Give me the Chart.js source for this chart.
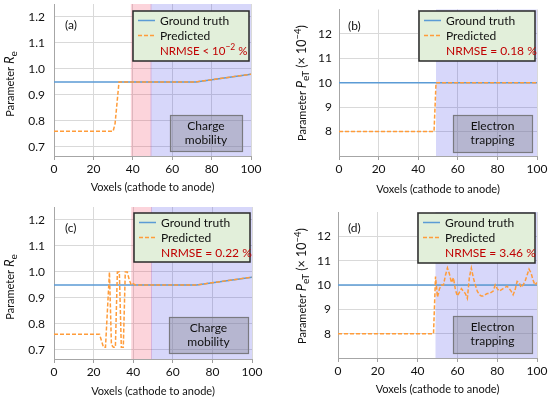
<!DOCTYPE html>
<html>
<head>
<meta charset="utf-8">
<script src="https://cdn.jsdelivr.net/npm/chart.js@4.4.0/dist/chart.umd.min.js"></script>
<style>
  body { margin: 0; background: #fff; }
  #wrap { position: relative; width: 550px; height: 399px; }
  .panel { position: absolute; }
</style>
</head>
<body>
<div id="wrap">
  <div class="panel" style="left:0;top:0;width:275px;height:200px"><canvas id="chartA"></canvas></div>
  <div class="panel" style="left:275px;top:0;width:275px;height:200px"><canvas id="chartB"></canvas></div>
  <div class="panel" style="left:0;top:200px;width:275px;height:199px"><canvas id="chartC"></canvas></div>
  <div class="panel" style="left:275px;top:200px;width:275px;height:199px"><canvas id="chartD"></canvas></div>
</div>
<script>
// tick values
const voxelTicks = [0, 20, 40, 60, 80, 100];
const reTicks = [0.7, 0.8, 0.9, 1.0, 1.1, 1.2];
const petTicks = [8, 9, 10, 11, 12];

// shaded bands (voxel ranges)
const mobilityBand = [39, 49.5];
const trappingBand = [49, 100];

// ground truth
const reTruthX = [0, 72, 100];
const reTruthY = [0.95, 0.95, 0.98];
const petTruthX = [0, 100];
const petTruthY = [10, 10];

// (a) predicted R_e
const predAX = [0, 30, 31, 33, 72, 100];
const predAY = [0.76, 0.76, 0.79, 0.95, 0.95, 0.98];

// (b) predicted P_eT
const predBX = [0, 48, 49, 100];
const predBY = [8, 8, 10, 10];

// (c) predicted R_e
const predCX = [0, 23, 25, 26, 28, 29, 30, 31, 32, 33, 34, 35, 36, 37, 38, 39, 40, 41, 72, 100];
const predCY = [0.76, 0.76, 0.71, 0.71, 1.0, 0.72, 0.71, 0.71, 1.0, 1.0, 0.71, 0.71, 1.0, 1.0, 0.97, 0.95, 0.955, 0.95, 0.95, 0.98];

// (d) predicted P_eT
const predDX = [0, 48, 49, 50, 51, 52, 53, 54, 55, 56, 57, 58, 59, 60, 61, 62, 63, 64, 65, 66, 67, 68, 69, 70,
  71, 72, 73, 74, 75, 76, 77, 78, 79, 80, 81, 82, 83, 84, 85, 86, 87, 88, 89, 90, 91, 92, 93, 94, 95, 96, 97, 98, 99, 100];
const predDY = [8, 8, 10.35, 9.5, 9.85, 10.0, 10.0, 10.4, 10.7, 10.45, 10.1, 10.3, 9.8, 9.55, 9.7, 9.85, 9.75, 9.65, 9.45, 10.3, 10.7, 10.3, 10.0, 9.75,
  9.6, 9.55, 9.55, 9.6, 9.65, 9.65, 9.7, 9.75, 10.0, 9.85, 9.75, 9.8, 9.85, 9.9, 9.95, 9.85, 9.75, 9.6, 9.8, 10.15, 10.1, 9.9, 10.0, 10.15, 10.4, 10.65, 10.5, 10.2, 10.0, 10.1];

const BLUE = '#5b9bd5';
const ORANGE = '#ff9c3a';
const INK = '#111';
const FONT = "Lato, 'Open Sans', sans-serif";

Chart.defaults.font.family = FONT;
Chart.defaults.font.size = 12;
Chart.defaults.color = INK;

function toPoints(xs, ys) {
  return xs.map((x, i) => ({ x: x, y: ys[i] }));
}

// draw a run of text pieces (for sub/superscripts)
function drawParts(ctx, parts, x, y, rotate, align) {
  ctx.save();
  ctx.translate(x, y);
  if (rotate) ctx.rotate(-Math.PI / 2);
  ctx.textBaseline = 'middle';
  ctx.textAlign = 'left';
  let total = 0;
  parts.forEach(p => { ctx.font = p.font; p.w = ctx.measureText(p.text).width; total += p.w; });
  let pos = align === 'center' ? -total / 2 : 0;
  parts.forEach(p => {
    ctx.font = p.font;
    ctx.fillStyle = p.color || INK;
    ctx.fillText(p.text, pos, p.dy || 0);
    pos += p.w;
  });
  ctx.restore();
}

const decor = {
  id: 'decor',
  beforeDatasetsDraw(chart, args, o) {
    const { ctx, chartArea: ca, scales: { x } } = chart;
    ctx.save();
    o.bands.forEach(b => {
      const x0 = x.getPixelForValue(b.range[0]);
      const x1 = x.getPixelForValue(b.range[1]);
      ctx.fillStyle = b.color;
      ctx.fillRect(x0, ca.top, x1 - x0, ca.bottom - ca.top);
    });
    ctx.restore();
  },
  afterDraw(chart, args, o) {
    const ctx = chart.ctx;
    ctx.save();
    // label box (Charge mobility / Electron trapping)
    const bx = o.box;
    ctx.fillStyle = 'rgba(128,128,140,0.38)';
    ctx.fillRect(bx.x, bx.y, bx.w, bx.h);
    ctx.strokeStyle = '#7a7a80';
    ctx.lineWidth = 1.2;
    ctx.strokeRect(bx.x + 0.5, bx.y + 0.5, bx.w, bx.h);
    ctx.fillStyle = INK;
    ctx.font = '12px ' + FONT;
    ctx.textAlign = 'center';
    ctx.textBaseline = 'middle';
    ctx.fillText(o.boxText[0], bx.x + bx.w / 2, bx.y + bx.h / 2 - 7);
    ctx.fillText(o.boxText[1], bx.x + bx.w / 2, bx.y + bx.h / 2 + 7);

    // legend
    const lg = o.legend;
    ctx.fillStyle = '#e2efda';
    ctx.fillRect(lg.x, lg.y, lg.w, lg.h);
    ctx.strokeStyle = '#2a2a2a';
    ctx.lineWidth = 1.5;
    ctx.strokeRect(lg.x, lg.y, lg.w, lg.h);
    ctx.strokeStyle = BLUE;
    ctx.beginPath();
    ctx.moveTo(lg.x + 5, lg.y + 9.5);
    ctx.lineTo(lg.x + 22, lg.y + 9.5);
    ctx.stroke();
    ctx.strokeStyle = ORANGE;
    ctx.setLineDash([4, 2]);
    ctx.beginPath();
    ctx.moveTo(lg.x + 5, lg.y + 24.5);
    ctx.lineTo(lg.x + 22, lg.y + 24.5);
    ctx.stroke();
    ctx.setLineDash([]);
    ctx.fillStyle = INK;
    ctx.font = '12px ' + FONT;
    ctx.textAlign = 'left';
    ctx.textBaseline = 'middle';
    ctx.fillText('Ground truth', lg.x + 27, lg.y + 10);
    ctx.fillText('Predicted', lg.x + 27, lg.y + 25);
    drawParts(ctx, o.nrmse, lg.x + 27, lg.y + 40, false, 'left');

    // panel letter
    ctx.fillStyle = INK;
    ctx.font = '12px ' + FONT;
    ctx.textAlign = 'left';
    ctx.textBaseline = 'middle';
    ctx.fillText(o.letter, o.letterPos[0], o.letterPos[1]);

    // y axis title
    drawParts(ctx, o.yTitle, o.yTitlePos[0], o.yTitlePos[1], true, 'center');
    ctx.restore();
  }
};

const reTitle = [
  { text: 'Parameter ', font: '11px ' + FONT },
  { text: 'R', font: 'italic 13px ' + FONT },
  { text: 'e', font: '10px ' + FONT, dy: 3.5 }
];
const petTitle = [
  { text: 'Parameter ', font: '11px ' + FONT },
  { text: 'P', font: 'italic 13px ' + FONT },
  { text: 'eT', font: '10px ' + FONT, dy: 3.5 },
  { text: ' (\u00d7 10', font: '12.5px ' + FONT },
  { text: '\u22124', font: '9.5px ' + FONT, dy: -4.5 },
  { text: ')', font: '12.5px ' + FONT }
];
function nrmseText(parts) {
  return parts.map(p => Object.assign({ color: '#c00000' }, p));
}

function makePanel(id, o) {
  const canvas = document.getElementById(id);
  const W = canvas.parentNode.clientWidth;
  const H = canvas.parentNode.clientHeight;
  new Chart(canvas, {
    type: 'line',
    data: {
      datasets: [
        {
          label: 'Ground truth',
          data: toPoints(o.truthX, o.truthY),
          borderColor: BLUE,
          borderWidth: 1.5,
          pointRadius: 0,
          tension: 0,
          order: 2
        },
        {
          label: 'Predicted',
          data: toPoints(o.predX, o.predY),
          borderColor: ORANGE,
          borderWidth: 1.5,
          borderDash: [4, 2],
          pointRadius: 0,
          tension: 0,
          order: 1
        }
      ]
    },
    options: {
      responsive: true,
      maintainAspectRatio: false,
      animation: false,
      layout: {
        padding: { left: 0, top: o.area.top, right: W - o.area.right, bottom: 0 }
      },
      plugins: {
        legend: { display: false },
        tooltip: { enabled: false },
        decor: o.decor
      },
      scales: {
        x: {
          type: 'linear',
          min: 0,
          max: 100,
          afterBuildTicks: s => { s.ticks = voxelTicks.map(v => ({ value: v })); },
          afterFit: s => { s.height = H - o.area.bottom; s.paddingLeft = 0; s.paddingRight = 0; },
          grid: { color: '#d9d9d9', tickLength: 4, tickColor: '#a0a0a0' },
          border: { color: '#a6a6a6' },
          ticks: { padding: 2, maxRotation: 0, color: INK, font: { size: 12 } },
          title: {
            display: true,
            text: 'Voxels (cathode to anode)',
            font: { size: 11 },
            color: INK,
            padding: { top: 0, bottom: H - o.xTitleY - 6.6 }
          }
        },
        y: {
          type: 'linear',
          min: o.yMin,
          max: o.yMax,
          afterBuildTicks: s => { s.ticks = o.yTicks.map(v => ({ value: v })); },
          afterFit: s => { s.width = o.area.left; s.paddingTop = 0; s.paddingBottom = 0; },
          grid: { color: '#d9d9d9', drawTicks: false },
          border: { color: '#a6a6a6' },
          ticks: { padding: o.tickPad, color: INK, font: { size: 12 }, callback: o.fmt }
        }
      }
    },
    plugins: [decor]
  });
}

const mobilityBands = [
  { range: mobilityBand, color: 'rgba(240,60,90,0.22)' },
  { range: trappingBand, color: 'rgba(40,40,230,0.19)' }
];
const trappingBands = [
  { range: trappingBand, color: 'rgba(40,40,230,0.19)' }
];

makePanel('chartA', {
  truthX: reTruthX, truthY: reTruthY, predX: predAX, predY: predAY,
  area: { left: 54, right: 251, top: 4, bottom: 156 },
  yMin: 0.665, yMax: 1.25, yTicks: reTicks, tickPad: 9, xTitleY: 187,
  fmt: v => v.toFixed(1),
  decor: {
    bands: mobilityBands,
    box: { x: 170, y: 115, w: 72, h: 36 }, boxText: ['Charge', 'mobility'],
    legend: { x: 133, y: 11, w: 116, h: 50 },
    nrmse: nrmseText([
      { text: 'NRMSE < 10', font: '11.5px ' + FONT },
      { text: '\u22122', font: '8.5px ' + FONT, dy: -4 },
      { text: ' %', font: '11.5px ' + FONT }
    ]),
    letter: '(a)', letterPos: [65, 25],
    yTitle: reTitle, yTitlePos: [10, 84]
  }
});

makePanel('chartB', {
  truthX: petTruthX, truthY: petTruthY, predX: predBX, predY: predBY,
  area: { left: 64, right: 262, top: 9.5, bottom: 156 },
  yMin: 7, yMax: 13, yTicks: petTicks, tickPad: 7, xTitleY: 189,
  fmt: v => v,
  decor: {
    bands: trappingBands,
    box: { x: 178, y: 115, w: 79, h: 37 }, boxText: ['Electron', 'trapping'],
    legend: { x: 144, y: 11, w: 116, h: 50 },
    nrmse: nrmseText([{ text: 'NRMSE = 0.18 %', font: '12px ' + FONT }]),
    letter: '(b)', letterPos: [73, 26],
    yTitle: petTitle, yTitlePos: [27, 83]
  }
});

makePanel('chartC', {
  truthX: reTruthX, truthY: reTruthY, predX: predCX, predY: predCY,
  area: { left: 54, right: 252, top: 7, bottom: 159 },
  yMin: 0.665, yMax: 1.25, yTicks: reTicks, tickPad: 9, xTitleY: 191,
  fmt: v => v.toFixed(1),
  decor: {
    bands: mobilityBands,
    box: { x: 169, y: 117, w: 79, h: 36 }, boxText: ['Charge', 'mobility'],
    legend: { x: 134, y: 13, w: 116, h: 49 },
    nrmse: nrmseText([{ text: 'NRMSE = 0.22 %', font: '12px ' + FONT }]),
    letter: '(c)', letterPos: [65, 28],
    yTitle: reTitle, yTitlePos: [10, 87]
  }
});

makePanel('chartD', {
  truthX: petTruthX, truthY: petTruthY, predX: predDX, predY: predDY,
  area: { left: 63, right: 262, top: 12, bottom: 158 },
  yMin: 7, yMax: 13, yTicks: petTicks, tickPad: 7, xTitleY: 189,
  fmt: v => v,
  decor: {
    bands: trappingBands,
    box: { x: 178, y: 116, w: 79, h: 37 }, boxText: ['Electron', 'trapping'],
    legend: { x: 143, y: 13, w: 117, h: 50 },
    nrmse: nrmseText([{ text: 'NRMSE = 3.46 %', font: '12px ' + FONT }]),
    letter: '(d)', letterPos: [73, 28],
    yTitle: petTitle, yTitlePos: [27, 86]
  }
});
</script>
</body>
</html>
